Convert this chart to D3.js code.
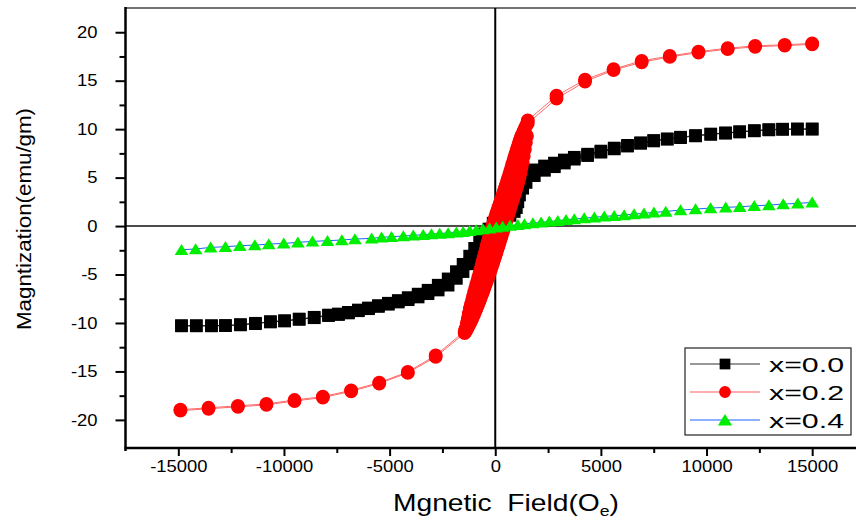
<!DOCTYPE html>
<html>
<head>
<meta charset="utf-8">
<script src="https://cdn.jsdelivr.net/npm/d3@7"></script>
<style>
  body { margin: 0; background: #fff; }
  svg { display: block; font-family: "Liberation Sans", Arial, sans-serif; }
</style>
</head>
<body>
<div id="chart"></div>
<script>
// tick values
var xMajor = [-15000, -10000, -5000, 0, 5000, 10000, 15000];
var xMinor = [-12500, -7500, -2500, 2500, 7500, 12500];
var yMajor = [-20, -15, -10, -5, 0, 5, 10, 15, 20];
var yMinor = [-17.5, -12.5, -7.5, -2.5, 2.5, 7.5, 12.5, 17.5];

var seriesNames = ["x=0.0", "x=0.2", "x=0.4"];

// x=0.0, [field, magnetization], coming down from +15000
var black0Down = [[15000,10.02],[14300,10.02],[13600,10.0],[12950,9.95],[12260,9.85],[11570,9.74],[10900,9.62],[10200,9.5],[9480,9.34],[8770,9.17],[8140,9.0],[7500,8.83],[6880,8.6],[6260,8.33],[5630,8.05],[5000,7.74],[4370,7.42],[3740,7.1],[3270,6.82],[2800,6.5],[2330,6.2],[1850,5.8],[1460,5.35],[1150,4.8],[900,4.1],[700,3.4],[500,2.6],[300,1.85],[100,1.05],[-100,0.3],[-300,-0.3],[-500,-0.8],[-740,-1.3],[-976,-2.3],[-1212,-3.1],[-1524,-3.95],[-1840,-4.7],[-2230,-5.45],[-2700,-6.1],[-3180,-6.62],[-3650,-7.02],[-4120,-7.38],[-4590,-7.68],[-5060,-7.96],[-5530,-8.2],[-6000,-8.45],[-6480,-8.66],[-6950,-8.9],[-7420,-9.07],[-7890,-9.18],[-8570,-9.41],[-9280,-9.59],[-9970,-9.76],[-10640,-9.86],[-11350,-10.03],[-12060,-10.17],[-12770,-10.26],[-13430,-10.28],[-14150,-10.28],[-14850,-10.28]];
// x=0.0, going back up from -15000
var black0Up = [[-14850,-10.3],[-14150,-10.3],[-13430,-10.3],[-12770,-10.28],[-12060,-10.2],[-11350,-10.07],[-10640,-9.9],[-9970,-9.8],[-9280,-9.63],[-8570,-9.46],[-7890,-9.24],[-7420,-9.13],[-6950,-8.97],[-6480,-8.74],[-6000,-8.53],[-5530,-8.3],[-5060,-8.07],[-4590,-7.84],[-4120,-7.6],[-3650,-7.32],[-3180,-6.98],[-2700,-6.6],[-2230,-6.1],[-1840,-5.4],[-1524,-4.7],[-1212,-3.9],[-976,-3.1],[-700,-2.2],[-500,-1.6],[-300,-1.0],[-100,-0.5],[100,-0.1],[300,0.3],[500,0.7],[700,1.1],[900,1.5],[1000,1.9],[1070,2.5],[1150,3.2],[1300,3.9],[1460,4.5],[1850,5.2],[2330,5.75],[2800,6.12],[3270,6.5],[3740,6.9],[4370,7.27],[5000,7.62],[5630,7.96],[6260,8.25],[6880,8.53],[7500,8.78],[8140,8.96],[8770,9.12],[9480,9.3],[10200,9.46],[10900,9.58],[11570,9.7],[12260,9.82],[12950,9.92],[13600,9.98],[14300,10.0],[15000,10.0]];

// x=0.2
var red2Down = [[15000,18.85],[13700,18.7],[12300,18.6],[11000,18.35],[9620,18.0],[8260,17.55],[6930,17.05],[5600,16.2],[4250,15.1],[2900,13.45],[1540,10.9],
  [1500,10.55],[1450,10.3],[1400,10.1],[1350,9.85],[1300,9.6],[1250,9.35],[1200,9.1],[1150,8.8],[1100,8.45],[1050,8.1],[1000,7.75],[950,7.4],[900,7.05],[850,6.7],[800,6.35],[750,5.98],[700,5.6],[650,5.25],[600,4.9],[550,4.55],[500,4.2],[450,3.88],[400,3.55],[350,3.22],[300,2.9],[250,2.58],[200,2.25],[150,1.92],[100,1.6],[50,1.28],[0,0.95],
  [-50,0.6],[-100,0.25],[-150,-0.08],[-200,-0.4],[-250,-0.8],[-300,-1.2],[-350,-1.6],[-400,-2.0],[-450,-2.42],[-500,-2.85],[-550,-3.25],[-600,-3.65],[-650,-4.08],[-700,-4.5],[-750,-4.9],[-800,-5.3],[-850,-5.68],[-900,-6.05],[-950,-6.45],[-1000,-6.85],[-1050,-7.25],[-1100,-7.65],[-1150,-8.07],[-1200,-8.5],[-1250,-9.0],[-1300,-9.5],[-1350,-10.02],[-1400,-10.55],
  [-1450,-10.85],[-2820,-13.35],[-4140,-15.05],[-5490,-16.15],[-6820,-16.95],[-8160,-17.6],[-9500,-17.95],[-10830,-18.35],[-12180,-18.55],[-13570,-18.75],[-14900,-18.95]];
var red2Up = [[-14900,-19.05],[-13570,-18.85],[-12180,-18.65],[-10830,-18.45],[-9500,-18.05],[-8160,-17.7],[-6820,-17.05],[-5490,-16.25],[-4140,-15.15],[-2820,-13.5],[-1450,-11.05],
  [-1400,-10.9],[-1350,-10.7],[-1300,-10.5],[-1250,-10.28],[-1200,-10.05],[-1150,-9.83],[-1100,-9.6],[-1050,-9.35],[-1000,-9.1],[-950,-8.85],[-900,-8.6],[-850,-8.33],[-800,-8.05],[-750,-7.78],[-700,-7.5],[-650,-7.2],[-600,-6.9],[-550,-6.6],[-500,-6.3],[-450,-6.0],[-400,-5.7],[-350,-5.4],[-300,-5.1],[-250,-4.78],[-200,-4.45],[-150,-4.12],[-100,-3.8],[-50,-3.48],[0,-3.15],
  [50,-2.8],[100,-2.45],[150,-2.1],[200,-1.75],[250,-1.4],[300,-1.05],[350,-0.7],[400,-0.35],[450,0.0],[500,0.35],[550,0.7],[600,1.05],[650,1.4],[700,1.75],[750,2.1],[800,2.45],[850,2.8],[900,3.15],[950,3.5],[1000,3.85],[1050,4.22],[1100,4.6],[1150,5.03],[1200,5.5],[1250,6.03],[1300,6.6],[1350,7.23],[1400,7.9],[1450,8.6],[1500,9.3],
  [1540,10.6],[2900,13.15],[4250,14.9],[5600,16.1],[6930,16.9],[8260,17.45],[9620,17.9],[11000,18.25],[12300,18.5],[13700,18.62],[15000,18.75]];

// x=0.4
var green4 = [[-14850,-2.44],[-14180,-2.37],[-13470,-2.2],[-12770,-2.13],[-12090,-2.03],[-11380,-1.96],[-10720,-1.86],[-10010,-1.79],[-9340,-1.68],[-8650,-1.58],[-7940,-1.51],[-7260,-1.44],[-6640,-1.34],[-5850,-1.27],[-5380,-1.16],[-4910,-1.1],[-4350,-1.03],[-3880,-0.96],[-3410,-0.89],[-3020,-0.82],[-2630,-0.76],[-2230,-0.72],[-1840,-0.65],[-1520,-0.58],[-1210,-0.48],[-900,-0.41],[-580,-0.31],[-270,-0.24],[50,-0.14],[350,-0.05],[700,0.05],[1070,0.13],[1380,0.21],[1780,0.31],[2170,0.38],[2560,0.48],[2960,0.55],[3350,0.65],[3740,0.72],[4210,0.82],[4690,0.9],[5160,1.0],[5630,1.06],[6100,1.13],[6570,1.24],[7040,1.31],[7510,1.41],[8070,1.51],[8770,1.65],[9480,1.75],[10190,1.86],[10910,1.93],[11570,1.99],[12260,2.09],[12950,2.16],[13630,2.27],[14320,2.34],[15000,2.44]];

var width = 856, height = 519;
var plotLeft = 125.5, plotRight = 865, plotTop = 8, plotBottom = 448;

var svg = d3.select("#chart").append("svg")
    .attr("width", width)
    .attr("height", height);

var x = d3.scaleLinear().domain([-17500, 17500]).range([plotLeft, plotRight]);
var y = d3.scaleLinear().domain([-22.9, 22.5]).range([plotBottom, plotTop]);

var plot = svg.append("g");

// frame top
plot.append("line")
    .attr("x1", plotLeft).attr("x2", plotRight)
    .attr("y1", plotTop).attr("y2", plotTop)
    .attr("stroke", "#444").attr("stroke-width", 1.5);

// zero lines
plot.append("line")
    .attr("x1", plotLeft).attr("x2", plotRight)
    .attr("y1", y(0)).attr("y2", y(0))
    .attr("stroke", "#111").attr("stroke-width", 1.5);
plot.append("line")
    .attr("x1", x(0)).attr("x2", x(0))
    .attr("y1", plotTop).attr("y2", plotBottom)
    .attr("stroke", "#000").attr("stroke-width", 2);

var line = d3.line()
    .x(function (d) { return x(d[0]); })
    .y(function (d) { return y(d[1]); });

var squarePath = d3.symbol().type(d3.symbolSquare).size(160)();
var circlePath = d3.symbol().type(d3.symbolCircle).size(150)();
var trianglePath = "M0,-5.8L6.8,5.2L-6.8,5.2Z";

function drawSeries(branches, lineColor, marker, fill) {
    var g = plot.append("g");
    branches.forEach(function (b) {
        g.append("path")
            .attr("d", line(b))
            .attr("fill", "none")
            .attr("stroke", lineColor)
            .attr("stroke-width", 1);
    });
    branches.forEach(function (b) {
        g.selectAll(null)
            .data(b)
            .enter()
            .append("path")
            .attr("d", marker)
            .attr("fill", fill)
            .attr("transform", function (d) {
                return "translate(" + x(d[0]) + "," + y(d[1]) + ")";
            });
    });
}

drawSeries([black0Down, black0Up], "#222", squarePath, "#000");
drawSeries([red2Down, red2Up], "#ff6a6a", circlePath, "#ff0000");
drawSeries([green4], "#1e64ff", trianglePath, "#00ee00");

// axes
var plainNum = function (d) { return String(d); };
svg.append("g")
    .attr("transform", "translate(" + plotLeft + ",0)")
    .call(d3.axisLeft(y).tickValues(yMajor).tickSize(10).tickPadding(18).tickFormat(plainNum));
svg.append("g")
    .attr("transform", "translate(" + plotLeft + ",0)")
    .call(d3.axisLeft(y).tickValues(yMinor).tickSize(6).tickFormat(""));
svg.append("g")
    .attr("transform", "translate(0," + plotBottom + ")")
    .call(d3.axisBottom(x).tickValues(xMajor).tickSize(8).tickPadding(5).tickFormat(plainNum));
svg.append("g")
    .attr("transform", "translate(0," + plotBottom + ")")
    .call(d3.axisBottom(x).tickValues(xMinor).tickSize(5).tickFormat(""));

svg.selectAll(".domain").remove();
svg.selectAll(".tick line").attr("stroke", "#000").attr("stroke-width", 2);
svg.selectAll(".tick text")
    .attr("font-size", 16)
    .attr("font-family", "'Liberation Sans', Arial, sans-serif")
    .attr("fill", "#000")
    .each(function () {
        // the original lettering is a little wider than plain Arial
        var w = this.getComputedTextLength();
        d3.select(this)
            .attr("textLength", w * 1.15)
            .attr("lengthAdjust", "spacingAndGlyphs");
    });

// axis lines
svg.append("line")
    .attr("x1", plotLeft).attr("x2", plotLeft)
    .attr("y1", plotTop - 1).attr("y2", plotBottom + 3)
    .attr("stroke", "#000").attr("stroke-width", 2.5);
svg.append("line")
    .attr("x1", plotLeft - 1).attr("x2", plotRight)
    .attr("y1", plotBottom).attr("y2", plotBottom)
    .attr("stroke", "#000").attr("stroke-width", 2.5);

// axis titles
svg.append("text")
    .attr("transform", "translate(31,219) rotate(-90)")
    .attr("text-anchor", "middle")
    .attr("font-size", 20)
    .attr("textLength", 222)
    .attr("lengthAdjust", "spacingAndGlyphs")
    .text("Magntization(emu/gm)");

var xt = svg.append("text")
    .attr("x", 506)
    .attr("y", 511)
    .attr("text-anchor", "middle")
    .attr("font-size", 24)
    .attr("textLength", 226)
    .attr("lengthAdjust", "spacingAndGlyphs");
xt.append("tspan").text("Mgnetic\u00a0\u00a0Field(O");
xt.append("tspan").attr("font-size", 15).attr("dy", 5).text("e");
xt.append("tspan").attr("dy", -5).text(")");

// legend
var legend = svg.append("g");
legend.append("rect")
    .attr("x", 685).attr("y", 348)
    .attr("width", 166).attr("height", 87)
    .attr("fill", "#fff")
    .attr("stroke", "#222").attr("stroke-width", 1.2);

var legendLine = ["#333", "#ff5a5a", "#1e64ff"];
var legendMarker = [squarePath, circlePath, trianglePath];
var legendFill = ["#000", "#ff0000", "#00ee00"];
var legendScale = [0.85, 0.85, 1.05];

seriesNames.forEach(function (name, i) {
    var ly = 364 + i * 28;
    legend.append("line")
        .attr("x1", 690).attr("x2", 760)
        .attr("y1", ly).attr("y2", ly)
        .attr("stroke", legendLine[i]).attr("stroke-width", 1.2);
    legend.append("path")
        .attr("d", legendMarker[i])
        .attr("fill", legendFill[i])
        .attr("transform", "translate(725," + ly + ") scale(" + legendScale[i] + ")");
    legend.append("text")
        .attr("x", 769)
        .attr("y", ly + 7.5)
        .attr("font-size", 21)
        .attr("textLength", 75)
        .attr("lengthAdjust", "spacingAndGlyphs")
        .text(name);
});
</script>
</body>
</html>
